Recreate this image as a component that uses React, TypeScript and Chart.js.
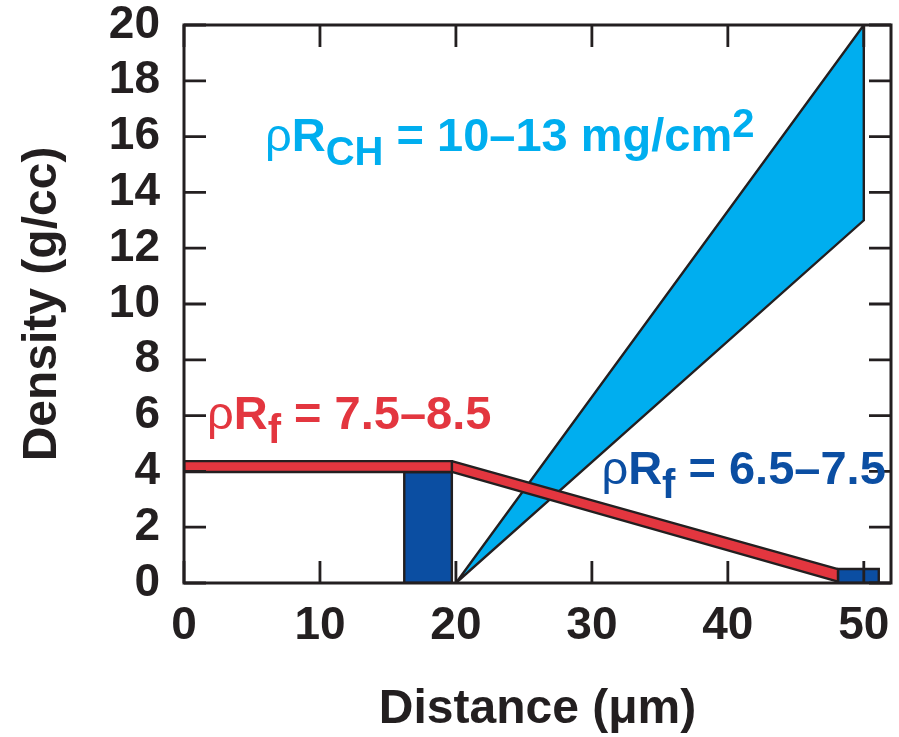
import React, { useEffect, useRef } from 'react';
import { Chart, registerables } from 'chart.js';

Chart.register(...registerables);

// ---- axes ----
const xTicks = [0, 10, 20, 30, 40, 50];
const yTicks = [0, 2, 4, 6, 8, 10, 12, 14, 16, 18, 20];
const xMin = 0;
const xMax = 52;
const yMin = 0;
const yMax = 20;
const xTitle = 'Distance (μm)';
const yTitle = 'Density (g/cc)';

// ---- shapes (distance µm, density g/cc) ----
// CH shell density range (light blue wedge)
const chX = [20, 50, 50, 20];
const chY = [0, 20, 13, 0];
// fuel density, flat part (red band)
const fuelFlatX = [0, 19.7, 19.7, 0, 0];
const fuelFlatY = [4.37, 4.37, 3.98, 3.98, 4.37];
// fuel density, sloped part (red band)
const fuelSlopeX = [19.7, 48.1, 48.1, 19.7, 19.7];
const fuelSlopeY = [4.37, 0.5, 0.05, 3.98, 4.37];
// dark blue block near 20 µm
const blockAX = [16.2, 16.2, 19.7, 19.7, 16.2];
const blockAY = [0, 3.98, 3.98, 0, 0];
// dark blue block near 50 µm
const blockBX = [48.1, 48.1, 51.1, 51.1, 48.1];
const blockBY = [0, 0.5, 0.5, 0, 0];

// ---- annotations ----
const annCH = { x: 5.96, y: 15.48, color: '#00AEEF', main: ' = 10–13 mg/cm', sub: 'CH', sup: '2' };
const annF1 = { x: 1.69, y: 5.52, color: '#E3363F', main: ' = 7.5–8.5', sub: 'f', sup: '' };
const annF2 = { x: 30.7, y: 3.55, color: '#0B4EA2', main: ' = 6.5–7.5', sub: 'f', sup: '' };
const annotations = [annCH, annF1, annF2];

const INK = '#231F20';
const CYAN = '#00AEEF';
const RED = '#E3363F';
const NAVY = '#0B4EA2';
const FONT = '"Liberation Sans", Arial, Helvetica, sans-serif';

const pts = (xs: number[], ys: number[]) => xs.map((x, i) => ({ x, y: ys[i] }));

const shape = (data: any, color: string, order: number) => ({
  data,
  borderColor: INK,
  borderWidth: 2.4,
  backgroundColor: color,
  fill: 'shape',
  pointRadius: 0,
  pointHoverRadius: 0,
  tension: 0,
  order,
});

const framePlugin = {
  id: 'frameAndText',
  afterDatasetsDraw(chart: any) {
    const { ctx, chartArea: a, scales } = chart;
    const xs = scales.x;
    const ys = scales.y;
    const tl = 22;
    ctx.save();
    ctx.strokeStyle = INK;
    ctx.lineWidth = 2.8;
    ctx.lineCap = 'butt';
    ctx.beginPath();
    for (const v of xTicks) {
      const px = xs.getPixelForValue(v);
      ctx.moveTo(px, a.bottom);
      ctx.lineTo(px, a.bottom - tl);
      ctx.moveTo(px, a.top);
      ctx.lineTo(px, a.top + tl);
    }
    for (const v of yTicks) {
      const py = ys.getPixelForValue(v);
      ctx.moveTo(a.left, py);
      ctx.lineTo(a.left + tl, py);
      ctx.moveTo(a.right, py);
      ctx.lineTo(a.right - tl, py);
    }
    ctx.stroke();
    ctx.lineWidth = 3;
    ctx.strokeRect(a.left, a.top, a.right - a.left, a.bottom - a.top);

    // annotations
    ctx.textBaseline = 'alphabetic';
    ctx.textAlign = 'left';
    for (const an of annotations) {
      let cx = xs.getPixelForValue(an.x);
      const by = ys.getPixelForValue(an.y);
      ctx.fillStyle = an.color;
      const parts = [
        { t: 'ρ', f: `normal 47px ${FONT}`, dy: 0 },
        { t: 'R', f: `bold 47px ${FONT}`, dy: 0 },
        { t: an.sub, f: `bold 40px ${FONT}`, dy: 14 },
        { t: an.main, f: `bold 47px ${FONT}`, dy: 0 },
        { t: an.sup, f: `bold 40px ${FONT}`, dy: -14 },
      ];
      for (const p of parts) {
        if (!p.t) continue;
        ctx.font = p.f;
        ctx.fillText(p.t, cx, by + p.dy);
        cx += ctx.measureText(p.t).width;
      }
    }
    ctx.restore();
  },
};

export default function App() {
  const ref = useRef<HTMLCanvasElement | null>(null);

  useEffect(() => {
    document.body.style.margin = '0';
    const canvas = ref.current;
    if (!canvas) return;
    const chart = new Chart(canvas, {
      type: 'line',
      data: {
        datasets: [
          shape(pts(fuelFlatX, fuelFlatY), RED, 0),
          shape(pts(fuelSlopeX, fuelSlopeY), RED, 0),
          shape(pts(blockAX, blockAY), NAVY, 1),
          shape(pts(blockBX, blockBY), NAVY, 1),
          shape(pts(chX, chY), CYAN, 2),
        ] as any,
      },
      options: {
        animation: false,
        responsive: false,
        maintainAspectRatio: false,
        events: [],
        layout: { padding: { top: 25, right: 8, bottom: 0, left: 0 } },
        plugins: { legend: { display: false }, tooltip: { enabled: false } },
        scales: {
          x: {
            type: 'linear',
            min: xMin,
            max: xMax,
            grid: { display: false, drawTicks: false },
            border: { display: false },
            afterBuildTicks: (s: any) => {
              s.ticks = xTicks.map((v) => ({ value: v }));
            },
            afterFit: (s: any) => {
              s.height = 154;
              s.paddingLeft = 0;
              s.paddingRight = 0;
            },
            ticks: {
              autoSkip: false,
              maxRotation: 0,
              padding: 20,
              color: INK,
              font: { family: FONT, size: 46, weight: 'bold', lineHeight: 1 },
            },
            title: {
              display: true,
              text: xTitle,
              color: INK,
              padding: { top: 0, bottom: 3 },
              font: { family: FONT, size: 48, weight: 'bold', lineHeight: 1 },
            },
          },
          y: {
            type: 'linear',
            min: yMin,
            max: yMax,
            grid: { display: false, drawTicks: false },
            border: { display: false },
            afterBuildTicks: (s: any) => {
              s.ticks = yTicks.map((v) => ({ value: v }));
            },
            afterFit: (s: any) => {
              s.width = 184;
              s.paddingTop = 0;
              s.paddingBottom = 0;
            },
            ticks: {
              autoSkip: false,
              padding: 24,
              color: INK,
              font: { family: FONT, size: 46, weight: 'bold', lineHeight: 1 },
            },
            title: {
              display: true,
              text: yTitle,
              color: INK,
              padding: { top: 19, bottom: 0 },
              font: { family: FONT, size: 48, weight: 'bold', lineHeight: 1 },
            },
          },
        },
      } as any,
      plugins: [framePlugin],
    });
    return () => chart.destroy();
  }, []);

  return <canvas ref={ref} width={899} height={737} style={{ display: 'block' }} />;
}
